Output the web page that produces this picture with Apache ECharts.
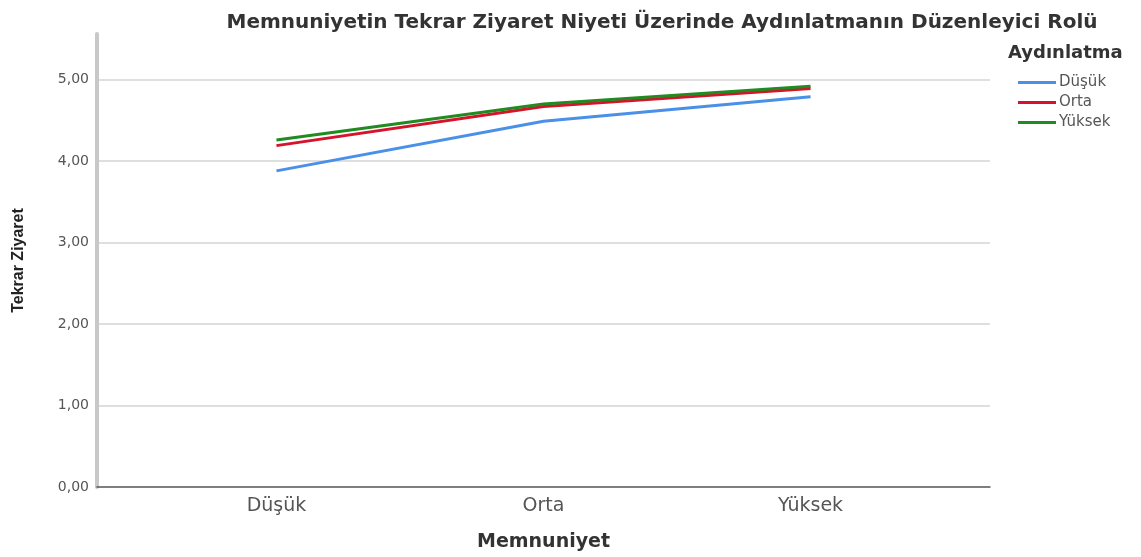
<!DOCTYPE html>
<html>
<head>
<meta charset="utf-8">
<script src="https://cdn.jsdelivr.net/npm/echarts@6/dist/echarts.min.js"></script>
<style>
  html, body { margin: 0; padding: 0; background: #fff; }
  #chart { width: 1141px; height: 557px; }
</style>
</head>
<body>
<div id="chart"></div>
<script>
// x ekseni kategorileri (Memnuniyet)
var categories = ["Düşük", "Orta", "Yüksek"];
// seriler (Aydınlatma)
var seriesNames = ["Düşük", "Orta", "Yüksek"];
var dusuk = [3.88, 4.49, 4.79];
var orta = [4.19, 4.67, 4.89];
var yuksek = [4.26, 4.70, 4.92];
var yTicks = [0, 1, 2, 3, 4, 5];

var colors = ["#4a90e8", "#d6122c", "#218a21"];

function toPoints(arr) {
  return arr.map(function (v, i) { return [i, v]; });
}

var myChart = echarts.init(document.getElementById("chart"));

myChart.setOption({
  animation: false,
  textStyle: { fontFamily: "DejaVu Sans" },
  title: [
    {
      text: "Memnuniyetin Tekrar Ziyaret Niyeti Üzerinde Aydınlatmanın Düzenleyici Rolü",
      left: 657,
      top: 8,
      textAlign: "center",
      textStyle: { fontSize: 20, fontWeight: "bold", color: "#333", fontFamily: "DejaVu Sans" }
    },
    {
      text: "Aydınlatma",
      left: 1003,
      top: 39,
      textStyle: { fontSize: 18, fontWeight: "bold", color: "#333", fontFamily: "DejaVu Sans" }
    }
  ],
  legend: {
    orient: "vertical",
    left: 1013,
    top: 70,
    itemWidth: 38,
    itemHeight: 3,
    itemGap: 5,
    icon: "rect",
    textStyle: { fontSize: 15, color: "#555", padding: [0, 0, 0, -2] },
    data: seriesNames
  },
  grid: { left: 97, right: 151, top: 34, bottom: 66, containLabel: false },
  xAxis: {
    type: "value",
    min: -0.672,
    max: 2.672,
    name: "Memnuniyet",
    nameLocation: "middle",
    nameGap: 46,
    nameTextStyle: { fontSize: 19, fontWeight: "bold", color: "#333" },
    axisLine: { show: true, lineStyle: { color: "#555", width: 1.5 } },
    axisTick: { show: false },
    splitLine: { show: false },
    axisLabel: {
      customValues: [0, 1, 2],
      margin: 10,
      fontSize: 19,
      color: "#555",
      formatter: function (v) { return categories[Math.round(v)]; }
    }
  },
  yAxis: {
    type: "value",
    min: 0,
    max: 5.56,
    interval: 1,
    name: "Tekrar Ziyaret",
    nameLocation: "middle",
    nameRotate: 90,
    nameGap: 70,
    nameTextStyle: { fontSize: 16, fontWeight: "bold", color: "#222", fontFamily: "Liberation Sans" },
    axisLine: { show: true, onZero: false, lineStyle: { color: "#c8c8c8", width: 4 } },
    axisTick: { show: false },
    axisLabel: {
      customValues: yTicks,
      fontSize: 14,
      color: "#555",
      margin: 8,
      formatter: function (v) { return v.toFixed(2).replace(".", ","); }
    },
    splitLine: {
      show: true,
      showMinLine: false,
      showMaxLine: false,
      lineStyle: { color: "#d4d4d4", width: 1.5 }
    }
  },
  series: [
    { name: seriesNames[0], type: "line", data: toPoints(dusuk), symbol: "none", lineStyle: { width: 3, color: colors[0] }, itemStyle: { color: colors[0] } },
    { name: seriesNames[1], type: "line", data: toPoints(orta), symbol: "none", lineStyle: { width: 3, color: colors[1] }, itemStyle: { color: colors[1] } },
    { name: seriesNames[2], type: "line", data: toPoints(yuksek), symbol: "none", lineStyle: { width: 3, color: colors[2] }, itemStyle: { color: colors[2] } }
  ]
});
</script>
</body>
</html>
